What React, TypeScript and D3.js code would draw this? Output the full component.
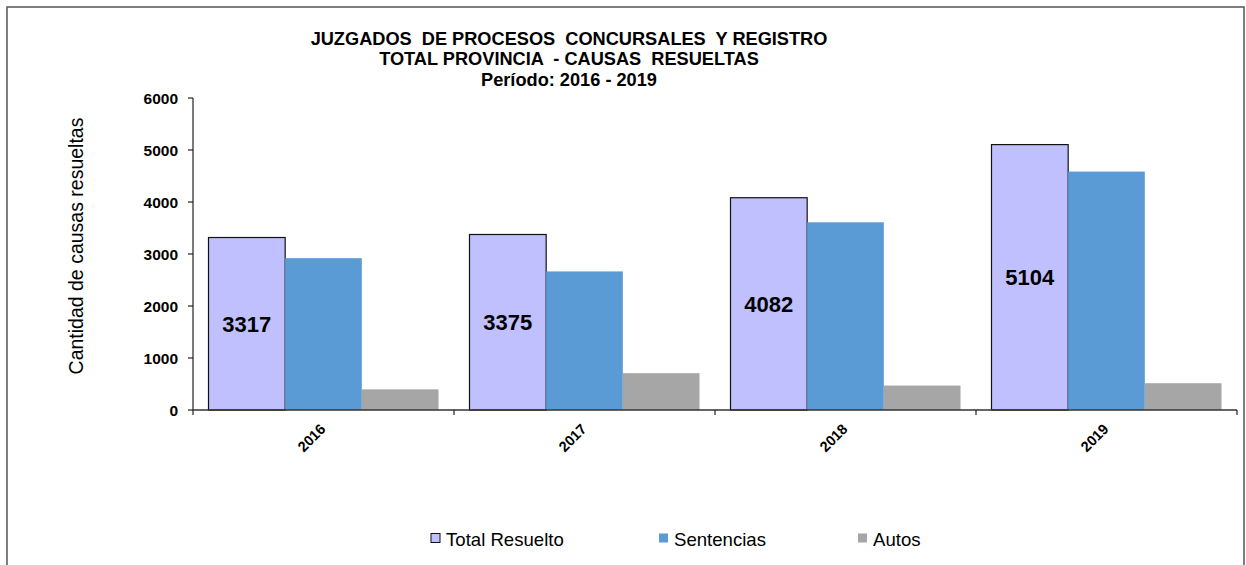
import React from 'react';
import { scaleBand, scaleLinear } from 'd3';

const W = 1246;
const H = 565;

const years = ['2016', '2017', '2018', '2019'];
const series = ['Total Resuelto', 'Sentencias', 'Autos'];
const totalResuelto = [3317, 3375, 4082, 5104];
const sentencias = [2920, 2665, 3610, 4585];
const autos = [397, 708, 470, 515];
const yTicks = [0, 1000, 2000, 3000, 4000, 5000, 6000];
const titleLines = [
  'JUZGADOS  DE PROCESOS  CONCURSALES  Y REGISTRO',
  'TOTAL PROVINCIA  - CAUSAS  RESUELTAS',
  'Período: 2016 - 2019',
];

const colors: Record<string, string> = {
  'Total Resuelto': '#c0c0ff',
  Sentencias: '#5b9bd5',
  Autos: '#a6a6a6',
};

const plot = { left: 193, right: 1237, top: 98, bottom: 410 };
const font = '"Liberation Sans", Arial, sans-serif';

export default function App() {
  const x = scaleBand().domain(years).range([plot.left, plot.right]);
  const bw = x.bandwidth();
  const x1 = scaleBand().domain(series).range([15.5, bw - 15.5]);
  const y = scaleLinear().domain([0, 6000]).range([plot.bottom, plot.top]);

  const values: Record<string, number[]> = {
    'Total Resuelto': totalResuelto,
    Sentencias: sentencias,
    Autos: autos,
  };

  const legend = [
    { name: 'Total Resuelto', x: 431 },
    { name: 'Sentencias', x: 659 },
    { name: 'Autos', x: 858 },
  ];

  return (
    <svg
      width={W}
      height={H}
      style={{ position: 'absolute', left: 0, top: 0, background: '#fff' }}
      fontFamily={font}
    >
      <rect x={7} y={7} width={1237} height={600} fill="#fff" stroke="#555" strokeWidth={1.5} />

      {titleLines.map((t, i) => (
        <text
          key={i}
          x={569}
          y={45 + i * 20.3}
          textAnchor="middle"
          fontSize={18.2}
          fontWeight="bold"
          style={{ whiteSpace: 'pre' }}
        >
          {t}
        </text>
      ))}

      {/* bars */}
      {years.map((yr, i) => (
        <g key={yr} transform={`translate(${x(yr)},0)`}>
          {series.map((s) => (
            <rect
              key={s}
              x={x1(s)}
              y={y(values[s][i])}
              width={x1.bandwidth()}
              height={y(0) - y(values[s][i])}
              fill={colors[s]}
              stroke={s === 'Total Resuelto' ? '#111' : 'none'}
              strokeWidth={1.2}
            />
          ))}
          <text
            x={(x1('Total Resuelto') as number) + x1.bandwidth() / 2}
            y={(y(totalResuelto[i]) + y(0)) / 2 + 8}
            textAnchor="middle"
            fontSize={22}
            fontWeight="bold"
          >
            {totalResuelto[i]}
          </text>
        </g>
      ))}

      {/* y axis */}
      <line x1={plot.left} x2={plot.left} y1={plot.top} y2={plot.bottom} stroke="#222" strokeWidth={1.2} />
      {yTicks.map((t) => (
        <g key={t}>
          <line x1={plot.left - 5} x2={plot.left} y1={y(t)} y2={y(t)} stroke="#222" strokeWidth={1.2} />
          <text x={178} y={y(t) + 5.5} textAnchor="end" fontSize={15.5} fontWeight="bold">
            {t}
          </text>
        </g>
      ))}
      <text
        transform={`translate(83,246) rotate(-90)`}
        textAnchor="middle"
        fontSize={19.5}
      >
        Cantidad de causas resueltas
      </text>

      {/* x axis */}
      <line x1={plot.left} x2={plot.right} y1={plot.bottom} y2={plot.bottom} stroke="#333" strokeWidth={1.5} />
      {[...years.map((yr) => x(yr) as number), plot.right].map((p, i) => (
        <line key={i} x1={p} x2={p} y1={plot.bottom} y2={plot.bottom + 5} stroke="#222" strokeWidth={1.2} />
      ))}
      {years.map((yr) => {
        const cx = (x(yr) as number) + bw / 2;
        return (
          <text
            key={yr}
            transform={`translate(${cx + 3},${430}) rotate(-45)`}
            textAnchor="end"
            fontSize={14.5}
            fontWeight="bold"
          >
            {yr}
          </text>
        );
      })}

      {/* legend */}
      {legend.map((l) => (
        <g key={l.name}>
          <rect
            x={l.x}
            y={533.5}
            width={9}
            height={9}
            fill={colors[l.name]}
            stroke={l.name === 'Total Resuelto' ? '#111' : 'none'}
            strokeWidth={1}
          />
          <text x={l.x + 15} y={546} fontSize={18.6}>
            {l.name}
          </text>
        </g>
      ))}
    </svg>
  );
}
